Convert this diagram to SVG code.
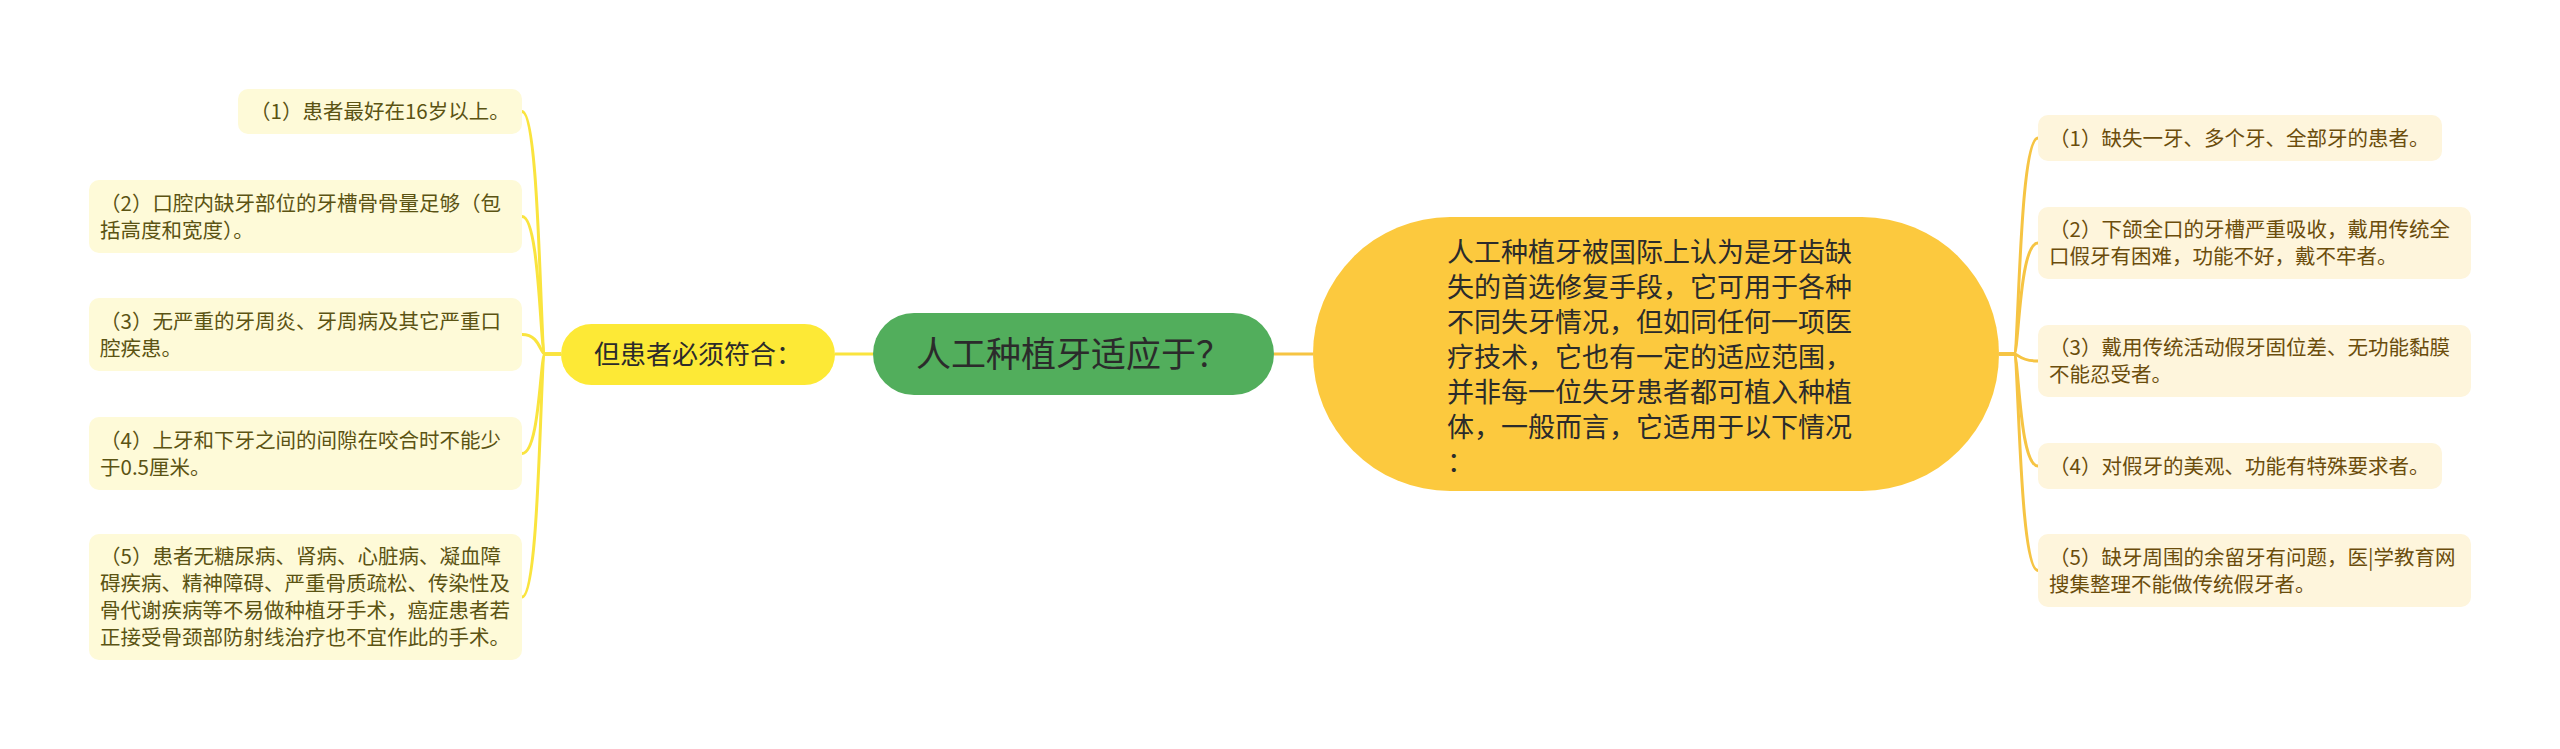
<svg xmlns="http://www.w3.org/2000/svg" width="2560" height="749" viewBox="0 0 2560 749">
<defs>
<style>
text{font-family:"Noto Sans CJK SC","Noto Sans",sans-serif;}
.lf{fill:#FEFAD8;}
.rf{fill:#FEF5DC;}
.lt{font-size:20.5px;fill:#5B5313;}
.rt{font-size:20.5px;fill:#6B4D0C;}
.cy{fill:none;stroke:#FAE43E;stroke-width:3;}
.co{fill:none;stroke:#F6C443;stroke-width:3;}
</style>
</defs>
<rect width="2560" height="749" fill="#FFFFFF"/>
<g id="connectors">
<path class="cy" d="M835,354 L873,354"/>
<path class="co" d="M1274,354 L1313,354"/>
<path class="cy" d="M561,354 L545,354 C540,354 540,111.5 522,111.5"/>
<path class="cy" d="M561,354 L545,354 C540,354 540,216.5 522,216.5"/>
<path class="cy" d="M561,354 L545,354 C540,354 540,334.5 522,334.5"/>
<path class="cy" d="M561,354 L545,354 C540,354 540,453.5 522,453.5"/>
<path class="cy" d="M561,354 L545,354 C540,354 540,597 522,597"/>
<path class="co" d="M1999,354 L2014,354 C2019,354 2019,138 2038,138"/>
<path class="co" d="M1999,354 L2014,354 C2019,354 2019,243 2038,243"/>
<path class="co" d="M1999,354 L2014,354 C2019,354 2019,361 2038,361"/>
<path class="co" d="M1999,354 L2014,354 C2019,354 2019,466 2038,466"/>
<path class="co" d="M1999,354 L2014,354 C2019,354 2019,570.5 2038,570.5"/>
</g>
<g id="root">
<rect x="873" y="313" width="401" height="82" rx="41" fill="#52AE5C"/>
<text x="1073.5" y="367" font-size="35" fill="#2B2B2B" text-anchor="middle">人工种植牙适应于？</text>
</g>
<g id="condition">
<rect x="561" y="324" width="274" height="61" rx="30.5" fill="#FDE936"/>
<text x="698" y="364" font-size="26" fill="#2B2B2B" text-anchor="middle">但患者必须符合：</text>
</g>
<g id="intro">
<rect x="1313" y="217" width="686" height="274" rx="137" fill="#FCC93E"/>
<text font-size="27" fill="#2B2B2B">
<tspan x="1447" y="262">人工种植牙被国际上认为是牙齿缺</tspan>
<tspan x="1447" y="297">失的首选修复手段，它可用于各种</tspan>
<tspan x="1447" y="332">不同失牙情况，但如同任何一项医</tspan>
<tspan x="1447" y="367">疗技术，它也有一定的适应范围，</tspan>
<tspan x="1447" y="402">并非每一位失牙患者都可植入种植</tspan>
<tspan x="1447" y="437">体，一般而言，它适用于以下情况</tspan>
<tspan x="1447" y="472">：</tspan>
</text>
</g>
<g id="left1">
<rect class="lf" x="238" y="89" width="284" height="45" rx="10"/>
<text class="lt" x="250" y="119">（1）患者最好在16岁以上。</text>
</g>
<g id="left2">
<rect class="lf" x="89" y="180" width="433" height="73" rx="10"/>
<text class="lt"><tspan x="100" y="210.5">（2）口腔内缺牙部位的牙槽骨骨量足够（包</tspan><tspan x="100" y="237.5">括高度和宽度）。</tspan></text>
</g>
<g id="left3">
<rect class="lf" x="89" y="298" width="433" height="73" rx="10"/>
<text class="lt"><tspan x="100" y="328.5">（3）无严重的牙周炎、牙周病及其它严重口</tspan><tspan x="100" y="355.5">腔疾患。</tspan></text>
</g>
<g id="left4">
<rect class="lf" x="89" y="417" width="433" height="73" rx="10"/>
<text class="lt"><tspan x="100" y="447.5">（4）上牙和下牙之间的间隙在咬合时不能少</tspan><tspan x="100" y="474.5">于0.5厘米。</tspan></text>
</g>
<g id="left5">
<rect class="lf" x="89" y="534" width="433" height="126" rx="10"/>
<text class="lt"><tspan x="100" y="563.5">（5）患者无糖尿病、肾病、心脏病、凝血障</tspan><tspan x="100" y="590.5">碍疾病、精神障碍、严重骨质疏松、传染性及</tspan><tspan x="100" y="617.5">骨代谢疾病等不易做种植牙手术，癌症患者若</tspan><tspan x="100" y="644.5">正接受骨颈部防射线治疗也不宜作此的手术。</tspan></text>
</g>
<g id="right1">
<rect class="rf" x="2038" y="115" width="404" height="46" rx="10"/>
<text class="rt" x="2049" y="145.5">（1）缺失一牙、多个牙、全部牙的患者。</text>
</g>
<g id="right2">
<rect class="rf" x="2038" y="207" width="433" height="72" rx="10"/>
<text class="rt"><tspan x="2049" y="237">（2）下颌全口的牙槽严重吸收，戴用传统全</tspan><tspan x="2049" y="264">口假牙有困难，功能不好，戴不牢者。</tspan></text>
</g>
<g id="right3">
<rect class="rf" x="2038" y="325" width="433" height="72" rx="10"/>
<text class="rt"><tspan x="2049" y="355">（3）戴用传统活动假牙固位差、无功能黏膜</tspan><tspan x="2049" y="382">不能忍受者。</tspan></text>
</g>
<g id="right4">
<rect class="rf" x="2038" y="443" width="404" height="46" rx="10"/>
<text class="rt" x="2049" y="473.5">（4）对假牙的美观、功能有特殊要求者。</text>
</g>
<g id="right5">
<rect class="rf" x="2038" y="534" width="433" height="73" rx="10"/>
<text class="rt"><tspan x="2049" y="564.5">（5）缺牙周围的余留牙有问题，医|学教育网</tspan><tspan x="2049" y="591.5">搜集整理不能做传统假牙者。</tspan></text>
</g>
</svg>
